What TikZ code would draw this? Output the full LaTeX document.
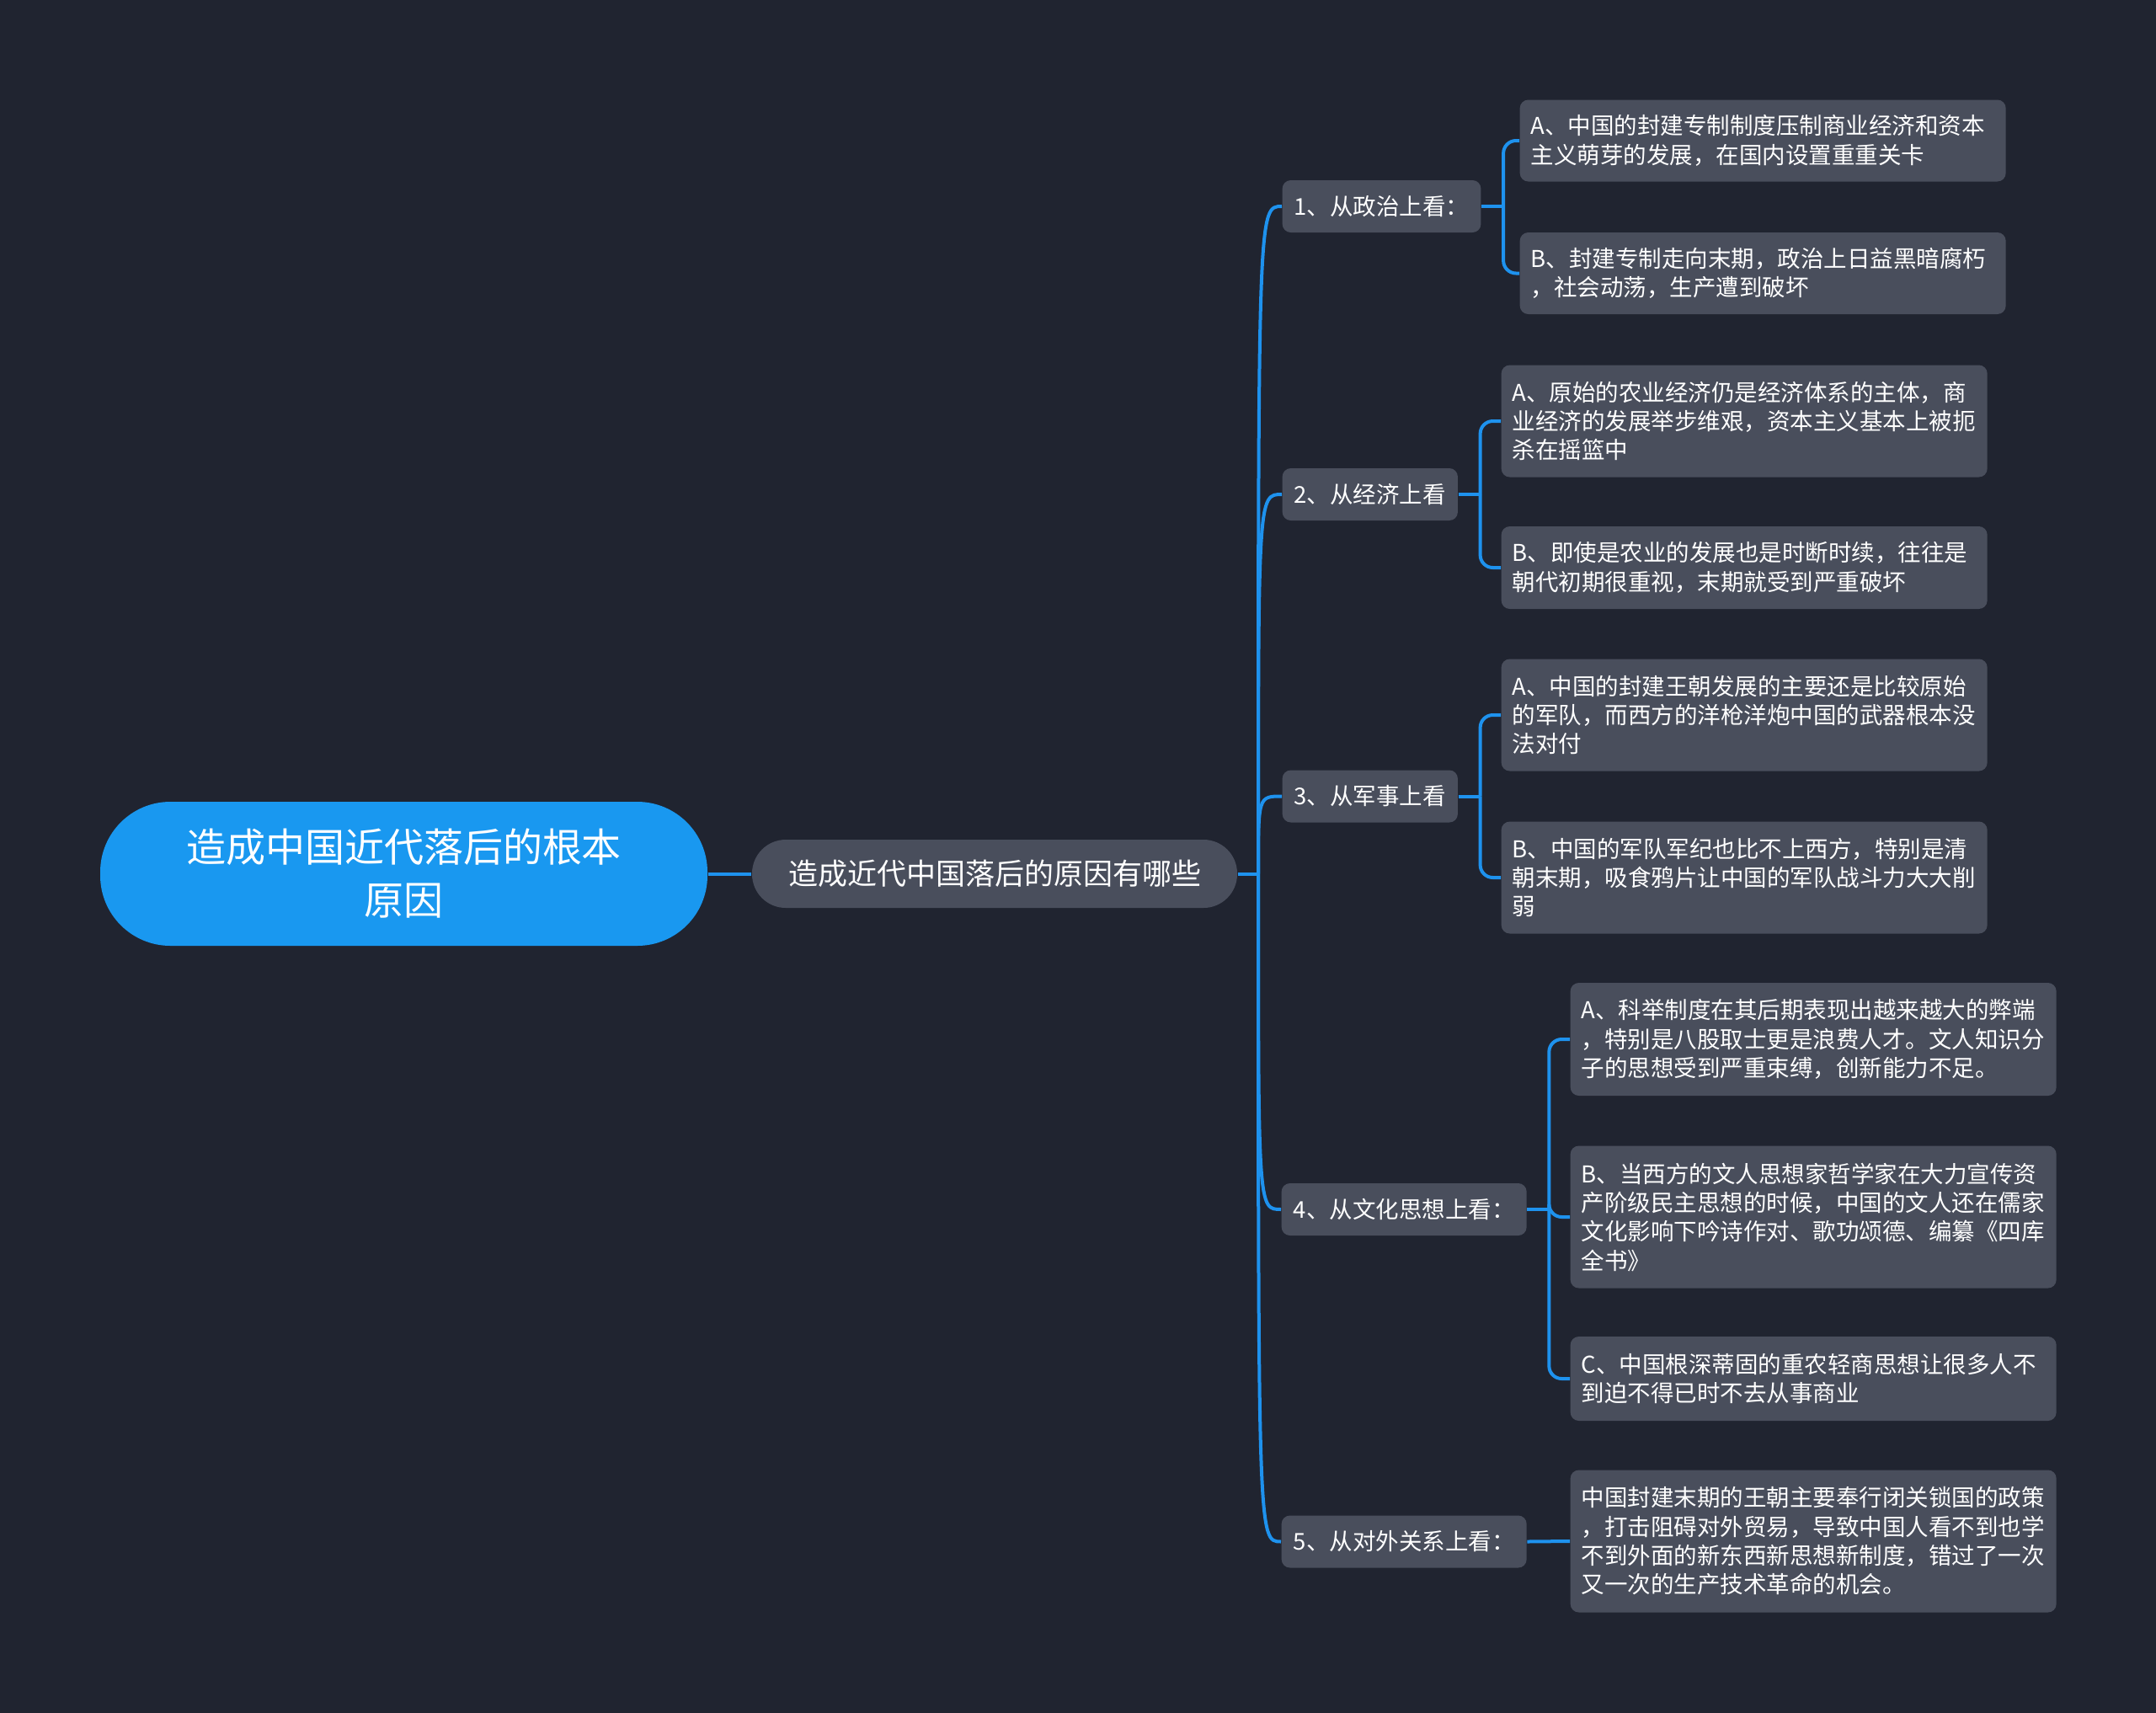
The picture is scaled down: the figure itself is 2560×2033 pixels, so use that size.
\documentclass[tikz,border=0pt]{standalone}
\usepackage{fontspec}
\setmainfont{Noto Sans CJK SC}
\usetikzlibrary{positioning}
\definecolor{bgdark}{RGB}{32,36,48}
\definecolor{nodegray}{RGB}{73,78,92}
\definecolor{rootblue}{RGB}{25,152,240}
\definecolor{linkblue}{RGB}{30,146,238}

\begin{document}
\begin{tikzpicture}[
    x=0.3pt,y=-0.3pt,
    rootnode/.style={fill=rootblue,text=white,rounded corners=25pt,minimum width=216.3pt,minimum height=51.3pt,align=center,inner sep=0pt,font=\fontsize{14.1pt}{18.9pt}\selectfont},
    asknode/.style={fill=nodegray,text=white,rounded corners=12pt,minimum width=172.8pt,minimum height=24.3pt,inner sep=0pt,font=\fontsize{10.5pt}{12.6pt}\selectfont},
    topicnode/.style={fill=nodegray,text=white,rounded corners=3pt,anchor=west,minimum height=18.6pt,inner xsep=4.2pt,inner ysep=0pt,font=\fontsize{8.25pt}{10.3pt}\selectfont},
    leafnode/.style={fill=nodegray,text=white,rounded corners=3pt,anchor=west,minimum width=173.1pt,text width=165.3pt,inner xsep=3.9pt,inner ysep=0pt,align=left,font=\fontsize{8.25pt}{10.3pt}\selectfont},
    link/.style={draw=linkblue,line width=1.2pt}
]

% Background
\useasboundingbox (0,0) rectangle (2560,2033);
\fill[bgdark] (-10,-10) rectangle (2570,2043);

% Root and question
\node[rootnode] (root) at (479.5,1037.5) {造成中国近代落后的根本\\原因};
\node[asknode] (ask) at (1181,1037.5) {造成近代中国落后的原因有哪些};
\coordinate (trunk) at (1494,1037.5);

% Aspects
\node[topicnode,minimum width=68.4pt] (n1) at (1522,245) {1、从政治上看：};
\node[topicnode,minimum width=62.4pt] (n2) at (1522,587) {2、从经济上看};
\node[topicnode,minimum width=62.4pt] (n3) at (1522,945.5) {3、从军事上看};
\node[topicnode,minimum width=87.3pt] (n4) at (1521,1436) {4、从文化思想上看：};
\node[topicnode,minimum width=87.3pt] (n5) at (1521,1830.5) {5、从对外关系上看：};

% Politics
\node[leafnode,minimum height=29.1pt] (a1) at (1804,167) {A、中国的封建专制制度压制商业经济和资本\\主义萌芽的发展，在国内设置重重关卡};
\node[leafnode,minimum height=29.1pt] (b1) at (1804,324.5) {B、封建专制走向末期，政治上日益黑暗腐朽\\，社会动荡，生产遭到破坏};

% Economy
\node[leafnode,minimum height=39.9pt] (a2) at (1782,500) {A、原始的农业经济仍是经济体系的主体，商\\业经济的发展举步维艰，资本主义基本上被扼\\杀在摇篮中};
\node[leafnode,minimum height=29.4pt] (b2) at (1782,674) {B、即使是农业的发展也是时断时续，往往是\\朝代初期很重视，末期就受到严重破坏};

% Military
\node[leafnode,minimum height=39.9pt] (a3) at (1782,849) {A、中国的封建王朝发展的主要还是比较原始\\的军队，而西方的洋枪洋炮中国的武器根本没\\法对付};
\node[leafnode,minimum height=39.9pt] (b3) at (1782,1042) {B、中国的军队军纪也比不上西方，特别是清\\朝末期，吸食鸦片让中国的军队战斗力大大削\\弱};

% Culture
\node[leafnode,minimum height=40.2pt] (a4) at (1864,1234) {A、科举制度在其后期表现出越来越大的弊端\\，特别是八股取士更是浪费人才。文人知识分\\子的思想受到严重束缚，创新能力不足。};
\node[leafnode,minimum height=50.7pt] (b4) at (1864,1445) {B、当西方的文人思想家哲学家在大力宣传资\\产阶级民主思想的时候，中国的文人还在儒家\\文化影响下吟诗作对、歌功颂德、编纂《四库\\全书》};
\node[leafnode,minimum height=30pt] (c4) at (1864,1637) {C、中国根深蒂固的重农轻商思想让很多人不\\到迫不得已时不去从事商业};

% Foreign relations
\node[leafnode,minimum height=50.7pt] (d5) at (1864,1830) {中国封建末期的王朝主要奉行闭关锁国的政策\\，打击阻碍对外贸易，导致中国人看不到也学\\不到外面的新东西新思想新制度，错过了一次\\又一次的生产技术革命的机会。};

% Connections
\draw[link] (root) -- (ask);
\draw[link] (ask) -- (trunk);
\foreach \i in {1,...,5}
  \draw[link] (trunk) .. controls (trunk |- n\i.west) .. (n\i.west);
\foreach \p/\c in {n1/a1,n1/b1,n2/a2,n2/b2,n3/a3,n3/b3,n4/a4,n4/b4,n4/c4} {
  \draw[link] (\p.east) -- ++(26,0) coordinate (j);
  \draw[link,rounded corners=4.5pt] (j) |- (\c.west);
}
\draw[link] (n5.east) -- (d5.west);

\end{tikzpicture}
\end{document}
